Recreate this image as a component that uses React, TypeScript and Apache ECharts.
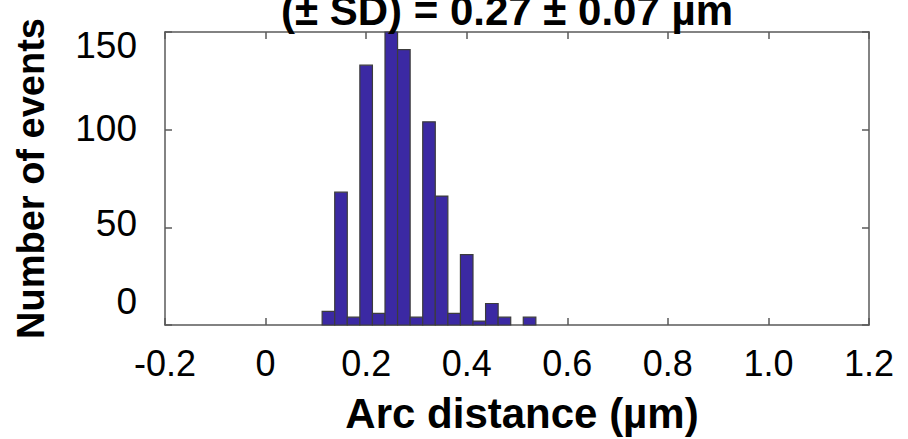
import React, { useEffect, useRef } from "react";
import * as echarts from "echarts";

const binCenters = [0.125, 0.15, 0.175, 0.2, 0.225, 0.25, 0.275, 0.3, 0.325, 0.35, 0.375, 0.4, 0.425, 0.45, 0.475, 0.5, 0.525];
const counts = [7, 68, 4, 133, 6, 150, 141, 4, 104, 66, 6, 36, 2, 11, 4, 0, 4];
const binWidth = 0.025;
const xTickLabels = ["-0.2", "0", "0.2", "0.4", "0.6", "0.8", "1.0", "1.2"];
const yTickLabels = ["0", "50", "100", "150"];
const titleText = "(± SD) = 0.27 ± 0.07 µm";
const xName = "Arc distance (µm)";
const yName = "Number of events";

const FONT = "'Liberation Sans', Arial, Helvetica, sans-serif";
const LINE = "#5a5a5a";

export default function App() {
  const ref = useRef<HTMLDivElement>(null);
  useEffect(() => {
    if (!ref.current) return;
    const chart = echarts.init(ref.current, null, { renderer: "svg" });
    const data = binCenters
      .map((c, i) => [c, counts[i]])
      .filter((d) => d[1] > 0);
    const yPad: Record<string, number[]> = {
      "150": [26, 0, 0, 0],
      "100": [0, 0, 2, 0],
      "50": [0, 0, 8, 0],
      "0": [0, 0, 48, 0],
    };
    const rich: Record<string, any> = {};
    yTickLabels.forEach((t) => {
      rich["v" + t] = { fontSize: 37, fontFamily: FONT, color: "#000", padding: yPad[t] };
    });
    const axisLine = { show: true, onZero: false, lineStyle: { color: LINE, width: 1.5 } };
    const axisTick = { show: true, inside: true, length: 7, lineStyle: { color: LINE, width: 1.5 } };
    chart.setOption({
      animation: false,
      backgroundColor: "#fff",
      title: {
        text: titleText,
        left: 281,
        top: -11,
        padding: 0,
        textStyle: { fontSize: 42, fontWeight: "bold", fontFamily: FONT, color: "#000" },
      },
      grid: { left: 165, right: 39, top: 32, bottom: 114, show: false },
      xAxis: [
        {
          type: "value",
          min: -0.2,
          max: 1.2,
          interval: 0.2,
          position: "bottom",
          splitLine: { show: false },
          axisLine,
          axisTick,
          axisLabel: {
            margin: 20,
            fontSize: 36,
            fontFamily: FONT,
            color: "#000",
            formatter: (_v: number, i: number) => xTickLabels[i],
          },
          name: xName,
          nameLocation: "middle",
          nameGap: 67,
          nameTextStyle: { fontSize: 42, fontWeight: "bold", fontFamily: FONT, color: "#000", padding: [0, 0, 0, 10] },
        },
        {
          type: "value",
          min: -0.2,
          max: 1.2,
          interval: 0.2,
          position: "top",
          splitLine: { show: false },
          axisLine,
          axisTick,
          axisLabel: { show: false },
        },
      ],
      yAxis: [
        {
          type: "value",
          min: 0,
          max: 150,
          interval: 50,
          position: "left",
          splitLine: { show: false },
          axisLine,
          axisTick,
          axisLabel: {
            margin: 28,
            fontSize: 37,
            fontFamily: FONT,
            color: "#000",
            formatter: (_v: number, i: number) => `{v${yTickLabels[i]}|${yTickLabels[i]}}`,
            rich,
          },
          name: yName,
          nameLocation: "middle",
          nameGap: 115,
          nameTextStyle: { fontSize: 38, fontWeight: "bold", fontFamily: FONT, color: "#000", padding: [0, 0, 0, 0] },
        },
        {
          type: "value",
          min: 0,
          max: 150,
          interval: 50,
          position: "right",
          splitLine: { show: false },
          axisLine,
          axisTick,
          axisLabel: { show: false },
        },
      ],
      series: [
        {
          type: "custom",
          xAxisIndex: 0,
          yAxisIndex: 0,
          data,
          renderItem: (params: any, api: any) => {
            const x = api.value(0);
            const y = api.value(1);
            const p0 = api.coord([x - binWidth / 2, y]);
            const p1 = api.coord([x + binWidth / 2, 0]);
            return {
              type: "rect",
              shape: { x: p0[0], y: p0[1], width: p1[0] - p0[0], height: p1[1] - p0[1] },
              style: { fill: "#3b29a3", stroke: "#3c3c3c", lineWidth: 1.2 },
            };
          },
        },
      ],
    });
    return () => chart.dispose();
  }, []);
  return (
    <div
      ref={ref}
      style={{ position: "fixed", left: 0, top: 0, width: 908, height: 439 }}
    />
  );
}
